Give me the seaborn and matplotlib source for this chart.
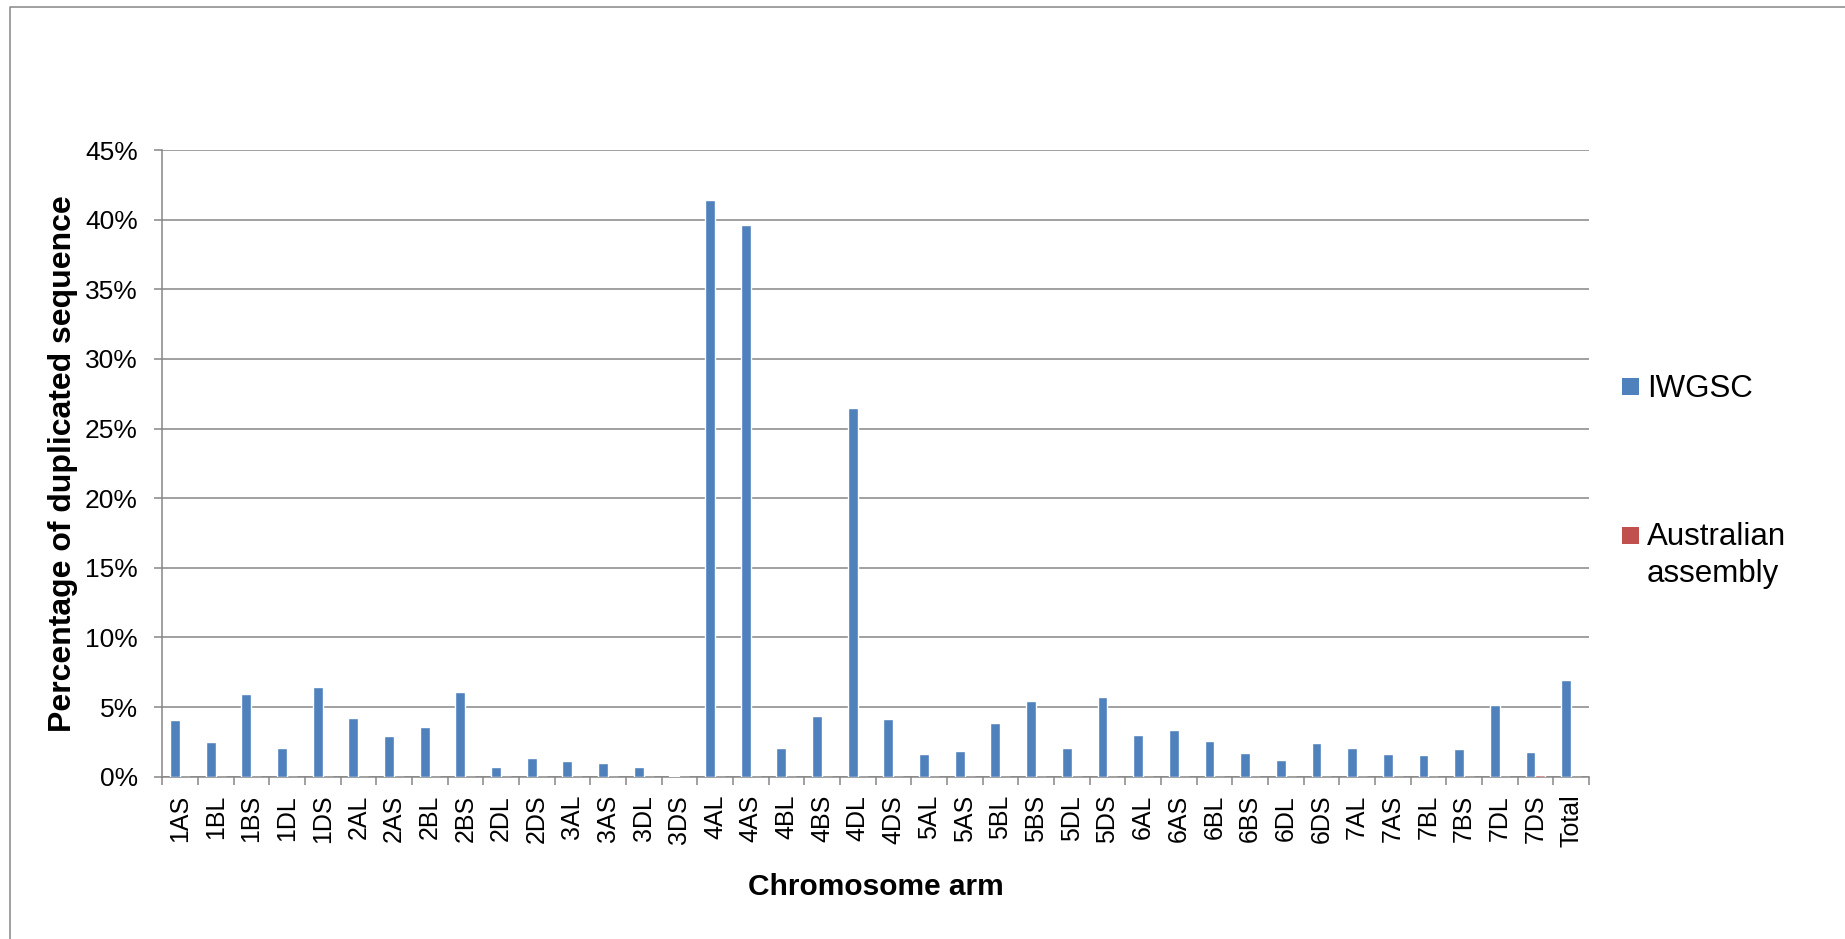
import matplotlib
matplotlib.use("Agg")
import matplotlib.pyplot as plt
import matplotlib.patches as mpatches
from matplotlib.lines import Line2D
import numpy as np
import pandas as pd
import seaborn as sns

# Chromosome arms and duplicated-sequence percentages
arms = ["1AS", "1BL", "1BS", "1DL", "1DS", "2AL", "2AS", "2BL", "2BS", "2DL",
        "2DS", "3AL", "3AS", "3DL", "3DS", "4AL", "4AS", "4BL", "4BS", "4DL",
        "4DS", "5AL", "5AS", "5BL", "5BS", "5DL", "5DS", "6AL", "6AS", "6BL",
        "6BS", "6DL", "6DS", "7AL", "7AS", "7BL", "7BS", "7DL", "7DS", "Total"]
iwgsc = [4.07, 2.51, 5.96, 2.08, 6.41, 4.24, 2.89, 3.59, 6.05, 0.67,
         1.31, 1.10, 1.00, 0.72, 0.05, 41.4, 39.6, 2.08, 4.38, 26.45,
         4.16, 1.65, 1.82, 3.88, 5.41, 2.08, 5.72, 2.97, 3.35, 2.56,
         1.70, 1.20, 2.39, 2.08, 1.63, 1.58, 1.96, 5.15, 1.74, 6.96]
australian = [0.0] * 38 + [0.1, 0.0]
series_names = ["IWGSC", "Australian assembly"]
y_ticks = [0, 5, 10, 15, 20, 25, 30, 35, 40, 45]

BLUE = "#4F81BD"
RED = "#C0504D"
GRID = "#868686"

df = pd.DataFrame({
    "arm": arms * 2,
    "pct": iwgsc + australian,
    "assembly": [series_names[0]] * len(arms) + [series_names[1]] * len(arms),
})

sns.set_style("white")
plt.rcParams["font.family"] = ["Liberation Sans", "DejaVu Sans"]
plt.rcParams["text.color"] = "black"
plt.rcParams["axes.labelcolor"] = "black"
plt.rcParams["xtick.labelcolor"] = "black"
plt.rcParams["ytick.labelcolor"] = "black"

W, H = 1845, 939
fig = plt.figure(figsize=(W / 100, H / 100), dpi=100)
ax = fig.add_axes([162.3 / W, 1 - 776.7 / H, (1589 - 162.3) / W, (776.7 - 150) / H])

sns.barplot(data=df, x="arm", y="pct", hue="assembly", order=arms,
            hue_order=series_names, palette=[BLUE, RED], width=0.56,
            saturation=1, dodge=True, legend=False, ax=ax, zorder=3)

ax.set_xlim(-0.5, len(arms) - 0.5)
ax.set_ylim(0, 45)
ax.set_yticks(y_ticks)
ax.set_yticklabels([f"{v}%" for v in y_ticks])
ax.yaxis.grid(True, color=GRID, linewidth=1.1, zorder=0)
ax.set_axisbelow(True)

# category labels centred, tick marks on category boundaries
ax.set_xticks(range(len(arms)))
ax.set_xticklabels(arms, rotation=90, va="top", ha="center")
ax.set_xticks(np.arange(-0.5, len(arms)), minor=True)
ax.tick_params(axis="x", which="major", length=0, pad=13, labelsize=18)
ax.tick_params(axis="x", which="minor", length=6, width=1.1, color=GRID,
               direction="out", bottom=True)
ax.tick_params(axis="y", which="major", length=5.5, width=1.1, color=GRID,
               direction="out", pad=12, labelsize=19, left=True)

for side in ["top", "right"]:
    ax.spines[side].set_visible(False)
for side in ["left", "bottom"]:
    ax.spines[side].set_color(GRID)
    ax.spines[side].set_linewidth(1.1)

ax.set_xlabel("Chromosome arm", fontsize=21.5, fontweight="bold")
ax.set_ylabel("Percentage of duplicated sequence", fontsize=23,
              fontweight="bold")
ax.xaxis.set_label_coords(0.5, -(873 - 776.7) / (776.7 - 150))
ax.yaxis.set_label_coords(-(162.3 - 78) / (1589 - 162.3), 0.5)

# legend on the right
sq = 17
for (label, color, yc) in [("IWGSC", BLUE, 386.7),
                           ("Australian\nassembly", RED, 535)]:
    fig.patches.append(mpatches.Rectangle(
        (1622 / W, 1 - (yc + sq / 2) / H), sq / W, sq / H,
        transform=fig.transFigure, facecolor=color, edgecolor="none"))
    fig.text(1647 / W, 1 - (yc - 13) / H, label, fontsize=22.5,
             ha="left", va="top", linespacing=1.32)

# chart area frame (left and top edges)
fig.lines.append(Line2D([10 / W, 10 / W, 1], [0, 1 - 7 / H, 1 - 7 / H],
                        transform=fig.transFigure, color=GRID, linewidth=1.1))

fig.savefig("out.png", dpi=100)
